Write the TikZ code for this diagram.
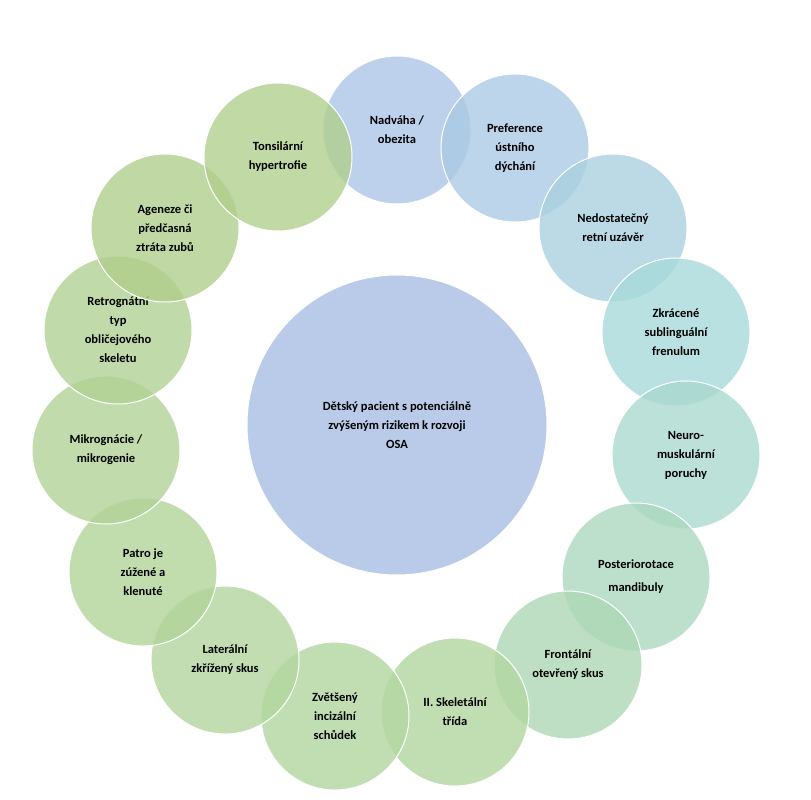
\documentclass[tikz,border=0pt]{standalone}
\usepackage{fontspec}
\setmainfont{Carlito}
\definecolor{cblue}{RGB}{172,198,232}
\definecolor{cteal}{RGB}{168,218,218}
\definecolor{cgreen}{RGB}{178,214,160}
\definecolor{colive}{RGB}{176,206,140}
\definecolor{ccenter}{RGB}{168,190,226}
\tikzset{
    bub/.style={circle, draw=white, line width=1pt, fill opacity=0.8, text opacity=1,
        align=center, font=\bfseries\fontsize{12.5}{19}\selectfont, inner sep=0pt},
}
\begin{document}
\begin{tikzpicture}[x=1pt,y=-1pt]
    \useasboundingbox (0,0) rectangle (811,800);
    \node[bub, fill=ccenter, minimum size=300] (center) at (397,425) {Dětský pacient s potenciálně\\zvýšeným rizikem k rozvoji\\OSA};
    \foreach \px/\py/\col/\txt [count=\i] in {
        397/130/cblue!100/{Nadváha /\\obezita},
        515/148/cblue!80!cteal/{Preference\\ústního\\dýchání},
        613/228/cblue!45!cteal/{Nedostatečný\\retní uzávěr},
        676/332/cteal/{Zkrácené\\sublinguální\\frenulum},
        686/455/cteal!80!cgreen/{Neuro-\\muskulární\\poruchy},
        636/577/cteal!55!cgreen/{Posteriorotace\\[4pt]mandibuly},
        568/665/cteal!35!cgreen/{Frontální\\otevřený skus},
        455/712/cgreen/{II. Skeletální\\třída},
        335/716/cgreen/{Zvětšený\\incizální\\schůdek},
        225/660/cgreen!85!colive/{Laterální\\zkřížený skus},
        143/572/cgreen!70!colive/{Patro je\\zúžené a\\klenuté},
        106/450/cgreen!55!colive/{Mikrognácie /\\mikrogenie},
        118/330/cgreen!40!colive/{Retrognátní\\typ\\obličejového\\skeletu},
        165/228/colive/{Ageneze či\\předčasná\\ztráta zubů},
        278/157/colive!90!cgreen/{Tonsilární\\hypertrofie}} {
        \node[bub, fill=\col, minimum size=148] (c\i) at (\px,\py) {\txt};
    }
\end{tikzpicture}
\end{document}
